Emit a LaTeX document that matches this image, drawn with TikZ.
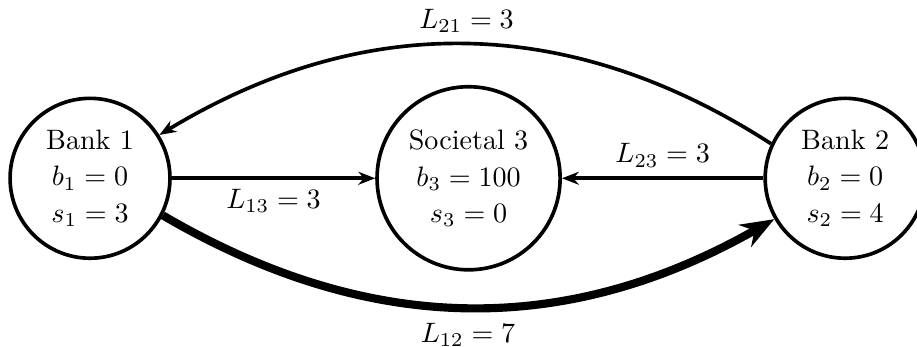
\documentclass[tikz,border=0pt]{standalone}
\usepackage{amsmath}
\usetikzlibrary{arrows.meta}

\begin{document}
\begin{tikzpicture}[>={Stealth[length=6pt,width=4.6pt]},
    bank/.style={draw,circle,line width=1.3pt,minimum size=2cm,inner sep=0pt,align=center},
    society/.style={bank,minimum size=2.29cm},
    loan/.style={->,line width=1.3pt}]
    \useasboundingbox (0,0) rectangle (11.47,4.34);
    \node[bank] (b1) at (1.126,2.11) {Bank 1\\[1pt] $b_1=0$\\[1pt] $s_1=3$};
    \node[society] (s3) at (5.861,2.11) {Societal 3\\[1pt] $b_3=100$\\[1pt] $s_3=0$};
    \node[bank] (b2) at (10.571,2.11) {Bank 2\\[1pt] $b_2=0$\\[1pt] $s_2=4$};
    \draw[loan] (b1) -- node[below] {$L_{13}=3$} (s3);
    \draw[loan] (b2) -- node[above] {$L_{23}=3$} (s3);
    \draw[loan] (b2.155) to[bend right=32] node[above] {$L_{21}=3$} (b1.32);
    \draw[loan,line width=2.9pt,-{Stealth[length=12pt,width=9pt]}]
      (b1.-27) to[bend right=30] node[below,yshift=-1pt] {$L_{12}=7$} (b2.210);
  \end{tikzpicture}
\end{document}
